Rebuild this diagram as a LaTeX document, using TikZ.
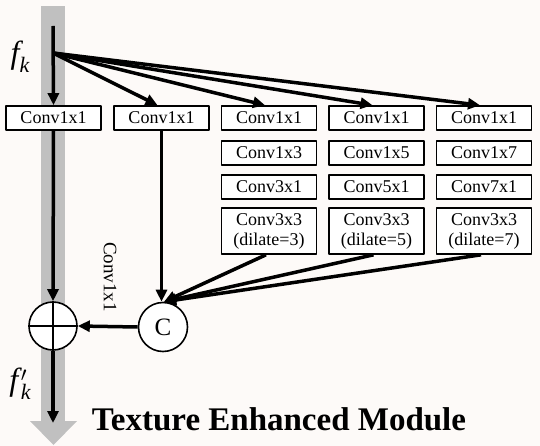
\documentclass[tikz,border=0pt]{standalone}
\usepackage{fontspec}
\setmainfont{Liberation Serif}
\usetikzlibrary{arrows.meta}
\definecolor{bandgray}{RGB}{192,192,192}
\definecolor{paper}{RGB}{253,250,248}
\tikzset{
  line/.style={line width=3.5pt},
  arr/.style={line width=3.5pt, -{Triangle[length=12pt,width=11pt]}},
  convbox/.style={draw, line width=1.6pt, fill=white, minimum width=95pt, minimum height=24pt,
    inner sep=0pt, align=center, font=\fontsize{18}{20}\selectfont},
  feat/.style={font=\itshape\fontsize{32}{32}\selectfont, inner sep=0pt},
}
\newcommand{\subk}{\raisebox{-0.28em}{\fontsize{22}{22}\selectfont k}}
\begin{document}
\begin{tikzpicture}[x=1pt, y=-1pt, line join=round]
    \fill[paper] (0,0) rectangle (540,446);
    % gray feature band
    \fill[bandgray] (41,6) rectangle (65,422);
    \fill[bandgray] (30,421) -- (77,421) -- (53.5,445) -- cycle;

    \coordinate (top) at (53,26);
    \coordinate (fork) at (53,53);
    \coordinate (out) at (53,423);
    \node[feat] (fk) at (20,57) {f\subk};
    \node[feat] (fkp) at (20,384) {f\kern0.08em\rlap{$'$}\subk};

    \node[convbox] (a1) at (53.5,118) {Conv1x1};
    \node[convbox] (a2) at (161.5,118) {Conv1x1};
    \foreach \i/\x/\n in {3/269/3, 4/376.5/5, 5/484/7} {
      \node[convbox] (a\i) at (\x,118) {Conv1x1};
      \node[convbox] (b\i) at (\x,153) {Conv1x\n};
      \node[convbox] (c\i) at (\x,187) {Conv\n x1};
      \node[convbox, minimum height=46pt] (d\i) at (\x,231) {Conv3x3\\(dilate=\n)};
    }

    \node[draw, circle, line width=1.6pt, fill=white, minimum size=48pt, inner sep=0pt] (sum) at (53,326) {};
    \draw[line width=1.6pt] (sum.north) -- (sum.south) (sum.west) -- (sum.east);
    \node[draw, circle, line width=1.6pt, fill=white, minimum size=49pt, inner sep=0pt,
      font=\fontsize{25}{25}\selectfont] (cat) at (163,327) {C};

    \draw[arr] (top) -- (a1.north);
    \foreach \i in {2,...,5} { \draw[arr] (fork) -- ([xshift=-4pt]a\i.north); }
    \draw[arr] (a2.south) -- ([xshift=-1.5pt]cat.north);
    \foreach \i in {3,4,5} { \draw[arr] ([xshift=-3pt]d\i.south) -- ([xshift=1pt]cat.north); }
    \draw[arr] (a1.south) -- (sum.north);
    \draw[arr] (cat.west) -- (sum.east);
    \draw[arr] (sum.south) -- (out);

    \node[rotate=-90, font=\fontsize{19}{19}\selectfont] (lab) at (110,277) {Conv1x1};
    \node[font=\bfseries\fontsize{33}{33}\selectfont] (title) at (279,419) {Texture Enhanced Module};
\end{tikzpicture}
\end{document}
